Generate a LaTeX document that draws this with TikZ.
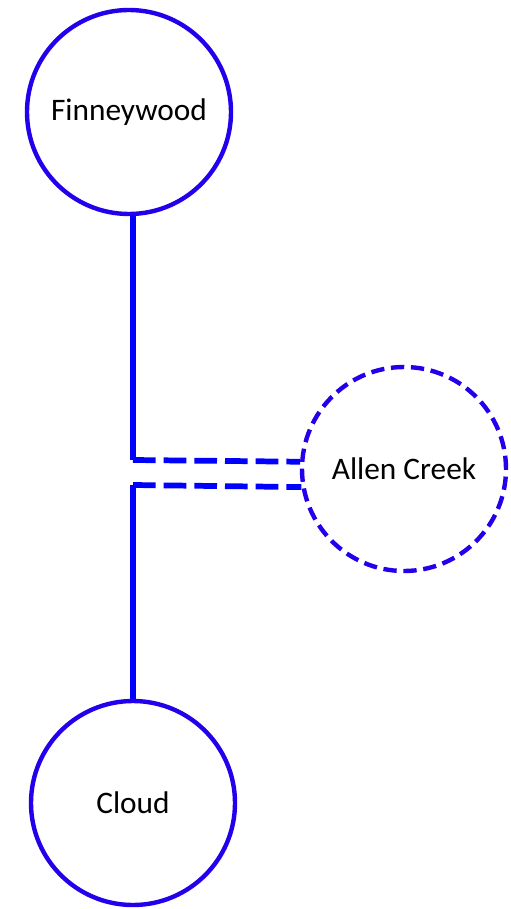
\documentclass[tikz,border=0pt]{standalone}
\usepackage{fontspec}
\setmainfont{Carlito}
\definecolor{ringblue}{RGB}{35,0,235}
\tikzset{
  town/.style={circle,draw=ringblue,line width=3.3pt,minimum size=153pt,inner sep=0pt,
    font=\fontsize{23.5}{28}\selectfont},
  link/.style={draw=blue,line width=4.8pt},
  dashlink/.style={draw=blue,line width=4.3pt,dash pattern=on 17pt off 6pt}
}
\begin{document}
\begin{tikzpicture}[x=0.75pt,y=-0.75pt]
      \useasboundingbox (0,0) rectangle (510,909);
      \draw
        (129,112) node[town] (fin){Finneywood}
        (404,469) node[town,dash pattern=on 10pt off 5pt] (allen){Allen Creek}
        (133,803) node[town] (cloud){Cloud};
      \coordinate (finbend) at (133,460);
      \coordinate (cloudbend) at (133,485);
      \begin{scope}[-]
        \draw[link] (fin.south -| finbend) to (finbend);
        \draw[dashlink] (finbend) to (allen.176);
        \draw[link] (cloud.north) to (cloudbend);
        \draw[dashlink] (cloudbend) to (allen.190);
      \end{scope}
    \end{tikzpicture}
\end{document}
